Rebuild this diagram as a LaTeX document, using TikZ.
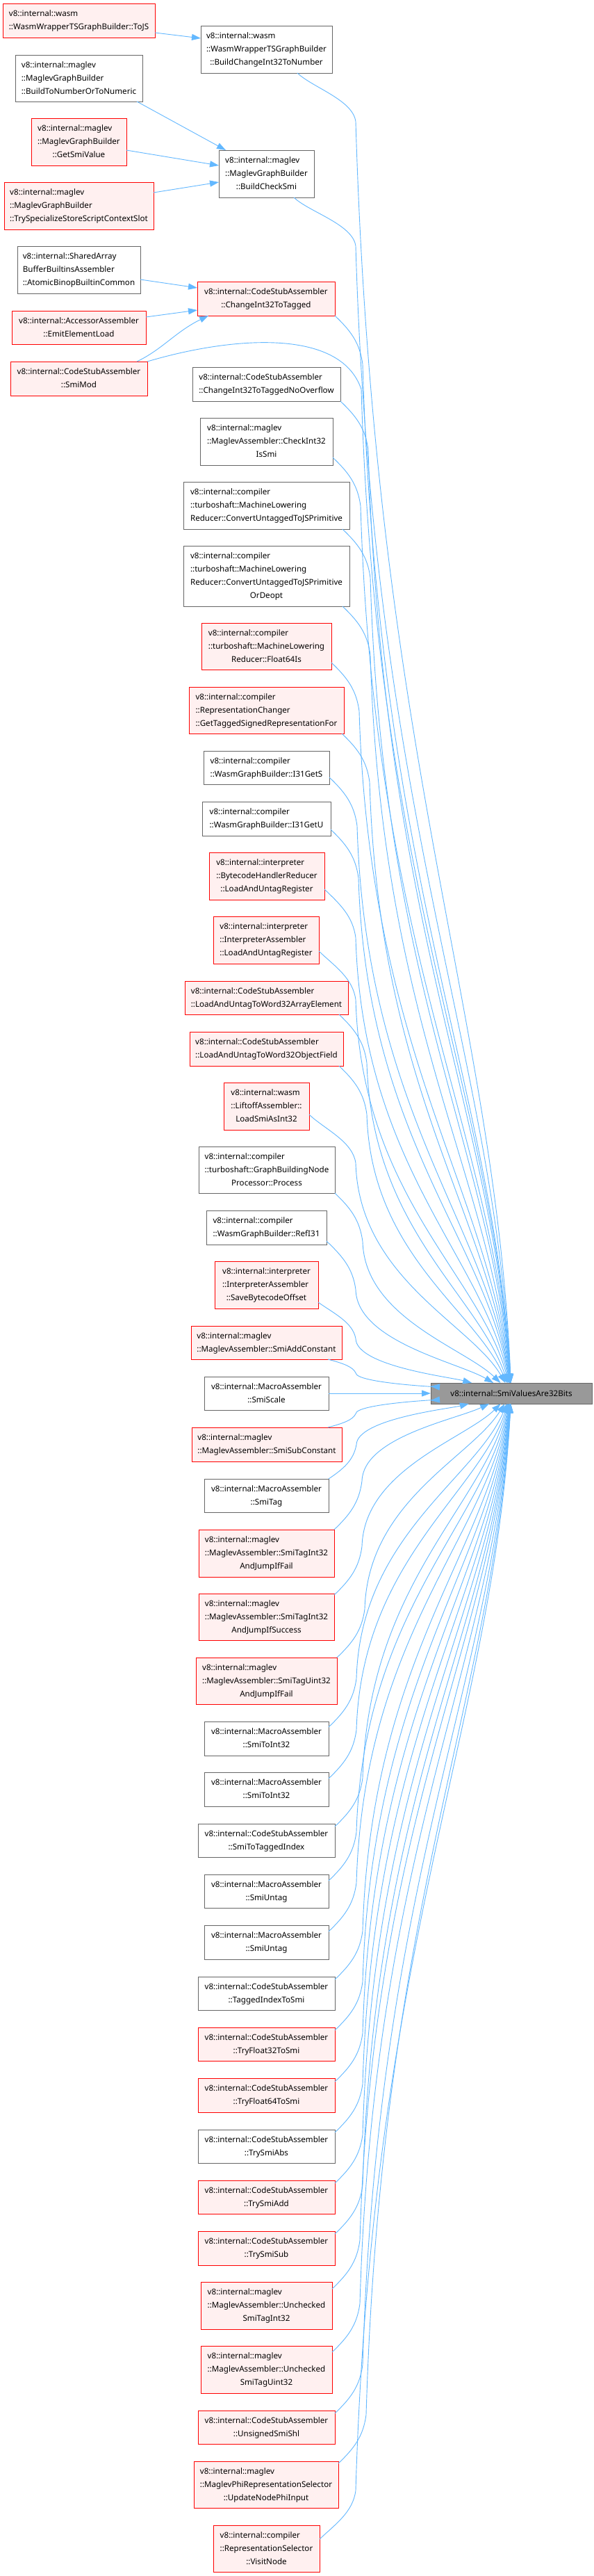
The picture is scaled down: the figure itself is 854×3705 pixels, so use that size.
\documentclass[tikz,border=0pt]{standalone}
\usepackage{fontspec}
\setmainfont{Noto Sans}
\usetikzlibrary{calc,arrows.meta}
\definecolor{edgeblue}{HTML}{63B8FF}
\definecolor{redfill}{HTML}{FFF0F0}
\definecolor{greyline}{HTML}{666666}
\definecolor{rootfill}{HTML}{999999}
\newcommand{\nlab}[2]{\begin{tabular}{@{}l@{}}#1\\\multicolumn{1}{@{}c@{}}{#2}\end{tabular}}
\newcommand{\calledge}[4]{%
\draw[calr] let \p1=($(#1)+(#2pt,#3pt)$), \p2=(T.center),
  \n1={abs(\y2-\y1)}, \n2={min(70pt,0.4*\n1)},
  \p3=({max(\x1+40pt,512pt)},{\y1+(#4)*\n2}),
  \n3={abs(\y2-\y3)}, \n4={300/(300+\n3)} in
  (\p1) .. controls ({\x1+22pt},{\y1+(#4)*0.3*\n2}) and ({\x3-4pt},{\y3-(#4)*0.45*\n2}) .. (\p3)
  .. controls ({\x3+0.015*\n3},{\y3+(#4)*0.5*\n3}) and ({\x2-10pt-100*\n4},{\y2-(#4)*0.3*\n3}) .. (T);}
\begin{document}
\begin{tikzpicture}[x=1pt,y=-1pt,
  font=\fontsize{11.6}{19}\selectfont,
  every node/.style={inner sep=0pt,outer sep=0pt},
  rn/.style={draw=red,fill=redfill,line width=1pt},
  gn/.style={draw=greyline,fill=white,line width=1pt},
  tn/.style={draw=greyline,fill=rootfill,line width=1pt},
  calr/.style={draw=edgeblue,line width=0.9pt,-{Triangle[length=13pt,width=9pt]}}]
\useasboundingbox[fill=white] (0,0) rectangle (854,3705);
% nodes
\node[rn,minimum width=219pt,minimum height=49pt] (n1) at (113.5,29.5) {\nlab{v8::internal::wasm}{::WasmWrapperTSGraphBuilder::ToJS}};
\node[gn,minimum width=189pt,minimum height=68pt] (n2) at (383.5,71) {\nlab{v8::internal::wasm\\::WasmWrapperTSGraphBuilder}{::BuildChangeInt32ToNumber}};
\node[gn,minimum width=183pt,minimum height=67pt] (n3) at (113.5,112.5) {\nlab{v8::internal::maglev\\::MaglevGraphBuilder}{::BuildToNumberOrToNumeric}};
\node[rn,minimum width=137pt,minimum height=68pt] (n4) at (113.5,204) {\nlab{v8::internal::maglev\\::MaglevGraphBuilder}{::GetSmiValue}};
\node[rn,minimum width=215pt,minimum height=68pt] (n5) at (113.5,296) {\nlab{v8::internal::maglev\\::MaglevGraphBuilder}{::TrySpecializeStoreScriptContextSlot}};
\node[gn,minimum width=137pt,minimum height=68pt] (n6) at (383.5,250) {\nlab{v8::internal::maglev\\::MaglevGraphBuilder}{::BuildCheckSmi}};
\node[gn,minimum width=177pt,minimum height=68pt] (n7) at (113.5,388) {\nlab{v8::internal::SharedArray\\BufferBuiltinsAssembler}{::AtomicBinopBuiltinCommon}};
\node[rn,minimum width=198pt,minimum height=49pt] (n8) at (383,429.5) {\nlab{v8::internal::CodeStubAssembler}{::ChangeInt32ToTagged}};
\node[rn,minimum width=193pt,minimum height=48pt] (n9) at (113.5,471) {\nlab{v8::internal::AccessorAssembler}{::EmitElementLoad}};
\node[rn,minimum width=197pt,minimum height=49pt] (n10) at (113.5,544.5) {\nlab{v8::internal::CodeStubAssembler}{::SmiMod}};
\node[gn,minimum width=213pt,minimum height=49pt] (n11) at (383.5,552.5) {\nlab{v8::internal::CodeStubAssembler}{::ChangeInt32ToTaggedNoOverflow}};
\node[gn,minimum width=191pt,minimum height=68pt] (n12) at (383.5,635) {\nlab{v8::internal::maglev\\::MaglevAssembler::CheckInt32}{IsSmi}};
\node[gn,minimum width=239pt,minimum height=68pt] (n13) at (383.5,727) {\nlab{v8::internal::compiler\\::turboshaft::MachineLowering}{Reducer::ConvertUntaggedToJSPrimitive}};
\node[gn,minimum width=239pt,minimum height=87pt] (n14) at (383.5,828.5) {\nlab{v8::internal::compiler\\::turboshaft::MachineLowering\\Reducer::ConvertUntaggedToJSPrimitive}{OrDeopt}};
\node[rn,minimum width=187pt,minimum height=67pt] (n15) at (383.5,929.5) {\nlab{v8::internal::compiler\\::turboshaft::MachineLowering}{Reducer::Float64Is}};
\node[rn,minimum width=223pt,minimum height=67pt] (n16) at (383.5,1021.5) {\nlab{v8::internal::compiler\\::RepresentationChanger}{::GetTaggedSignedRepresentationFor}};
\node[gn,minimum width=181pt,minimum height=48pt] (n17) at (383.5,1104) {\nlab{v8::internal::compiler}{::WasmGraphBuilder::I31GetS}};
\node[gn,minimum width=185pt,minimum height=49pt] (n18) at (383.5,1177.5) {\nlab{v8::internal::compiler}{::WasmGraphBuilder::I31GetU}};
\node[rn,minimum width=166pt,minimum height=68pt] (n19) at (384,1260) {\nlab{v8::internal::interpreter\\::BytecodeHandlerReducer}{::LoadAndUntagRegister}};
\node[rn,minimum width=152pt,minimum height=68pt] (n20) at (383,1352) {\nlab{v8::internal::interpreter\\::InterpreterAssembler}{::LoadAndUntagRegister}};
\node[rn,minimum width=235pt,minimum height=48pt] (n21) at (383.5,1435) {\nlab{v8::internal::CodeStubAssembler}{::LoadAndUntagToWord32ArrayElement}};
\node[rn,minimum width=221pt,minimum height=49pt] (n22) at (383.5,1508.5) {\nlab{v8::internal::CodeStubAssembler}{::LoadAndUntagToWord32ObjectField}};
\node[rn,minimum width=123pt,minimum height=68pt] (n23) at (383.5,1591) {\nlab{v8::internal::wasm\\::LiftoffAssembler::}{LoadSmiAsInt32}};
\node[gn,minimum width=196pt,minimum height=67pt] (n24) at (384,1682.5) {\nlab{v8::internal::compiler\\::turboshaft::GraphBuildingNode}{Processor::Process}};
\node[gn,minimum width=173pt,minimum height=49pt] (n25) at (383.5,1765.5) {\nlab{v8::internal::compiler}{::WasmGraphBuilder::RefI31}};
\node[rn,minimum width=149pt,minimum height=68pt] (n26) at (383.5,1848) {\nlab{v8::internal::interpreter\\::InterpreterAssembler}{::SaveBytecodeOffset}};
\node[rn,minimum width=217pt,minimum height=48pt] (n27) at (383.5,1931) {\nlab{v8::internal::maglev}{::MaglevAssembler::SmiAddConstant}};
\node[gn,minimum width=179pt,minimum height=48pt] (n28) at (383.5,2004) {\nlab{v8::internal::MacroAssembler}{::SmiScale}};
\node[rn,minimum width=216pt,minimum height=49pt] (n29) at (384,2077.5) {\nlab{v8::internal::maglev}{::MaglevAssembler::SmiSubConstant}};
\node[gn,minimum width=179pt,minimum height=48pt] (n30) at (383.5,2151) {\nlab{v8::internal::MacroAssembler}{::SmiTag}};
\node[rn,minimum width=195pt,minimum height=68pt] (n31) at (383.5,2234) {\nlab{v8::internal::maglev\\::MaglevAssembler::SmiTagInt32}{AndJumpIfFail}};
\node[rn,minimum width=195pt,minimum height=67pt] (n32) at (383.5,2325.5) {\nlab{v8::internal::maglev\\::MaglevAssembler::SmiTagInt32}{AndJumpIfSuccess}};
\node[rn,minimum width=203pt,minimum height=67pt] (n33) at (383.5,2417.5) {\nlab{v8::internal::maglev\\::MaglevAssembler::SmiTagUint32}{AndJumpIfFail}};
\node[gn,minimum width=179pt,minimum height=49pt] (n34) at (383.5,2500.5) {\nlab{v8::internal::MacroAssembler}{::SmiToInt32}};
\node[gn,minimum width=179pt,minimum height=49pt] (n35) at (383.5,2573.5) {\nlab{v8::internal::MacroAssembler}{::SmiToInt32}};
\node[gn,minimum width=197pt,minimum height=48pt] (n36) at (383.5,2647) {\nlab{v8::internal::CodeStubAssembler}{::SmiToTaggedIndex}};
\node[gn,minimum width=179pt,minimum height=48pt] (n37) at (383.5,2720) {\nlab{v8::internal::MacroAssembler}{::SmiUntag}};
\node[gn,minimum width=179pt,minimum height=49pt] (n38) at (383.5,2793.5) {\nlab{v8::internal::MacroAssembler}{::SmiUntag}};
\node[gn,minimum width=197pt,minimum height=48pt] (n39) at (383.5,2867) {\nlab{v8::internal::CodeStubAssembler}{::TaggedIndexToSmi}};
\node[rn,minimum width=197pt,minimum height=48pt] (n40) at (383.5,2940) {\nlab{v8::internal::CodeStubAssembler}{::TryFloat32ToSmi}};
\node[rn,minimum width=197pt,minimum height=49pt] (n41) at (383.5,3013.5) {\nlab{v8::internal::CodeStubAssembler}{::TryFloat64ToSmi}};
\node[gn,minimum width=197pt,minimum height=48pt] (n42) at (383.5,3087) {\nlab{v8::internal::CodeStubAssembler}{::TrySmiAbs}};
\node[rn,minimum width=197pt,minimum height=48pt] (n43) at (383.5,3160) {\nlab{v8::internal::CodeStubAssembler}{::TrySmiAdd}};
\node[rn,minimum width=197pt,minimum height=49pt] (n44) at (383.5,3233.5) {\nlab{v8::internal::CodeStubAssembler}{::TrySmiSub}};
\node[rn,minimum width=189pt,minimum height=68pt] (n45) at (383.5,3316) {\nlab{v8::internal::maglev\\::MaglevAssembler::Unchecked}{SmiTagInt32}};
\node[rn,minimum width=189pt,minimum height=68pt] (n46) at (383.5,3408) {\nlab{v8::internal::maglev\\::MaglevAssembler::Unchecked}{SmiTagUint32}};
\node[rn,minimum width=197pt,minimum height=48pt] (n47) at (383.5,3491) {\nlab{v8::internal::CodeStubAssembler}{::UnsignedSmiShl}};
\node[rn,minimum width=208pt,minimum height=67pt] (n48) at (383,3573.5) {\nlab{v8::internal::maglev\\::MaglevPhiRepresentationSelector}{::UpdateNodePhiInput}};
\node[rn,minimum width=153pt,minimum height=67pt] (n49) at (383.5,3665.5) {\nlab{v8::internal::compiler\\::RepresentationSelector}{::VisitNode}};
\node[tn,minimum width=232pt,minimum height=30pt] (T) at (736,2004) {v8::internal::SmiValuesAre32Bits};
% edges among callers
\draw[calr] ([yshift=-17.5pt]n1.east) -- ([yshift=16pt]n2.west);
\draw[calr] ([xshift=-8pt]n3.south east) -- ([xshift=10pt]n6.north west);
\draw[calr] ([yshift=-12pt]n4.east) -- ([yshift=12pt]n6.west);
\draw[calr] ([yshift=19pt]n5.east) -- ([yshift=-12pt]n6.west);
\draw[calr] ([yshift=-14pt]n7.east) -- ([yshift=15.5pt]n8.west);
\draw[calr] ([yshift=15pt]n9.east) -- ([yshift=-16.5pt]n8.west);
\draw[calr] ([xshift=-15pt]n10.north east) .. controls (233,503) and (253,477) .. ([xshift=16pt]n8.south west);
% edges to the target
\draw[calr] (n10.north east) .. controls (330,485) and (490,470) .. (520,560) .. controls (541,1275) and (709,1575) .. (T);
\calledge{n2.south east}{-50}{0}{-1}
\calledge{n6.south east}{-29}{0}{-1}
\calledge{n8.south east}{0}{0}{-1}
\calledge{n11.south east}{0}{0}{-1}
\calledge{n12.south east}{0}{11}{-1}
\calledge{n13.south east}{-10}{0}{-1}
\calledge{n14.south east}{-10}{0}{-1}
\calledge{n15.south east}{0}{10}{-1}
\calledge{n16.south east}{-3}{0}{-1}
\calledge{n17.south east}{0}{10}{-1}
\calledge{n18.south east}{0}{9}{-1}
\calledge{n19.south east}{0}{15}{-1}
\calledge{n20.south east}{0}{18}{-1}
\calledge{n21.south east}{-13}{0}{-1}
\calledge{n22.south east}{-6}{0}{-1}
\calledge{n23.south east}{0}{22}{-1}
\calledge{n24.south east}{0}{0}{-1}
\calledge{n25.south east}{0}{5}{-1}
\calledge{n26.south east}{0}{9}{-1}
\calledge{n27.south east}{-20}{0}{-1}
\draw[calr] (n28) -- (T);
\calledge{n29.north east}{-20}{0}{1}
\calledge{n30.north east}{0}{0}{1}
\calledge{n31.north east}{0}{0}{1}
\calledge{n32.north east}{0}{-2}{1}
\calledge{n33.north east}{0}{0}{1}
\calledge{n34.north east}{0}{-8}{1}
\calledge{n35.north east}{0}{-9}{1}
\calledge{n36.north east}{0}{-4}{1}
\calledge{n37.north east}{0}{-9}{1}
\calledge{n38.north east}{0}{-9}{1}
\calledge{n39.north east}{0}{-4}{1}
\calledge{n40.north east}{0}{-4}{1}
\calledge{n41.north east}{0}{-5}{1}
\calledge{n42.north east}{0}{-4}{1}
\calledge{n43.north east}{0}{-4}{1}
\calledge{n44.north east}{0}{-4}{1}
\calledge{n45.north east}{0}{-10}{1}
\calledge{n46.north east}{0}{-9}{1}
\calledge{n47.north east}{0}{-4}{1}
\calledge{n48.north east}{0}{-3}{1}
\calledge{n49.north east}{0}{-20}{1}
\end{tikzpicture}
\end{document}
